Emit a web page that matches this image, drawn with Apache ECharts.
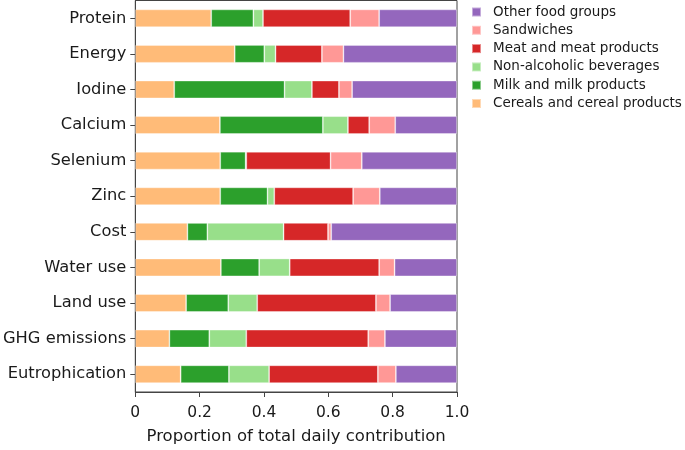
<!DOCTYPE html>
<html>
<head>
<meta charset="utf-8">
<script src="https://cdn.jsdelivr.net/npm/echarts@6/dist/echarts.min.js"></script>
<style>html,body{margin:0;padding:0;background:#fff;}#c{width:685px;height:450px;}</style>
</head>
<body>
<div id="c"></div>
<script>
const categories = ['Protein','Energy','Iodine','Calcium','Selenium','Zinc','Cost','Water use','Land use','GHG emissions','Eutrophication'];
const cereals   = [0.236,0.309,0.121,0.263,0.264,0.264,0.162,0.266,0.158,0.106,0.141];
const milk      = [0.131,0.092,0.343,0.320,0.079,0.147,0.062,0.119,0.131,0.124,0.150];
const beverages = [0.030,0.035,0.085,0.078,0.002,0.021,0.237,0.095,0.090,0.115,0.125];
const meat      = [0.271,0.144,0.084,0.066,0.262,0.245,0.138,0.278,0.369,0.379,0.338];
const sandwiches= [0.090,0.067,0.041,0.081,0.097,0.083,0.010,0.048,0.044,0.052,0.056];
const other     = [0.242,0.353,0.326,0.192,0.296,0.240,0.391,0.194,0.208,0.224,0.190];
const xTicks = ['0','0.2','0.4','0.6','0.8','1.0'];

const seriesDefs = [
  ['Cereals and cereal products', cereals, '#ffbb78'],
  ['Milk and milk products', milk, '#2ca02c'],
  ['Non-alcoholic beverages', beverages, '#98df8a'],
  ['Meat and meat products', meat, '#d62728'],
  ['Sandwiches', sandwiches, '#ff9896'],
  ['Other food groups', other, '#9467bd']
];
const FONT = 'DejaVu Sans';
const chart = echarts.init(document.getElementById('c'), null, {renderer:'canvas'});
chart.setOption({
  animation:false,
  backgroundColor:'#fff',
  grid:{left:134.5, top:0.5, width:322.5, height:395.5, show:true, borderColor:'#444', borderWidth:1, backgroundColor:'transparent'},
  legend:{
    orient:'vertical', left:466, top:0,
    itemWidth:9, itemHeight:9, itemGap:4.3,
    icon:'rect',
    data:seriesDefs.map(d=>d[0]).slice().reverse(),
    textStyle:{fontFamily:FONT, fontSize:13.5, color:'#1a1a1a', lineHeight:14, padding:[0,0,0,7]}
  },
  xAxis:{
    type:'value', min:0, max:1, interval:0.2,
    axisLine:{show:true, lineStyle:{color:'#444'}},
    axisTick:{show:true, length:5, lineStyle:{color:'#444'}},
    splitLine:{show:false},
    axisLabel:{fontFamily:FONT, fontSize:15.5, color:'#1a1a1a', margin:13,
      formatter:(v)=>{const i=Math.round(v/0.2);return xTicks[i]!==undefined?xTicks[i]:'';}},
    name:'Proportion of total daily contribution', nameLocation:'middle', nameGap:36,
    nameTextStyle:{fontFamily:FONT, fontSize:16.5, color:'#1a1a1a', verticalAlign:'top'}
  },
  yAxis:{
    type:'category', data:categories, inverse:true,
    axisLine:{show:true, lineStyle:{color:'#444'}},
    axisTick:{show:true, alignWithLabel:true, length:5, lineStyle:{color:'#444'}},
    axisLabel:{fontFamily:FONT, fontSize:16.3, color:'#1a1a1a', margin:9}
  },
  series:seriesDefs.map(d=>({
    name:d[0], type:'bar', stack:'total', data:d[1], barWidth:'50%',
    itemStyle:{color:d[2], borderColor:'rgba(255,255,255,0.45)', borderWidth:0.8}
  }))
});
</script>
</body>
</html>
